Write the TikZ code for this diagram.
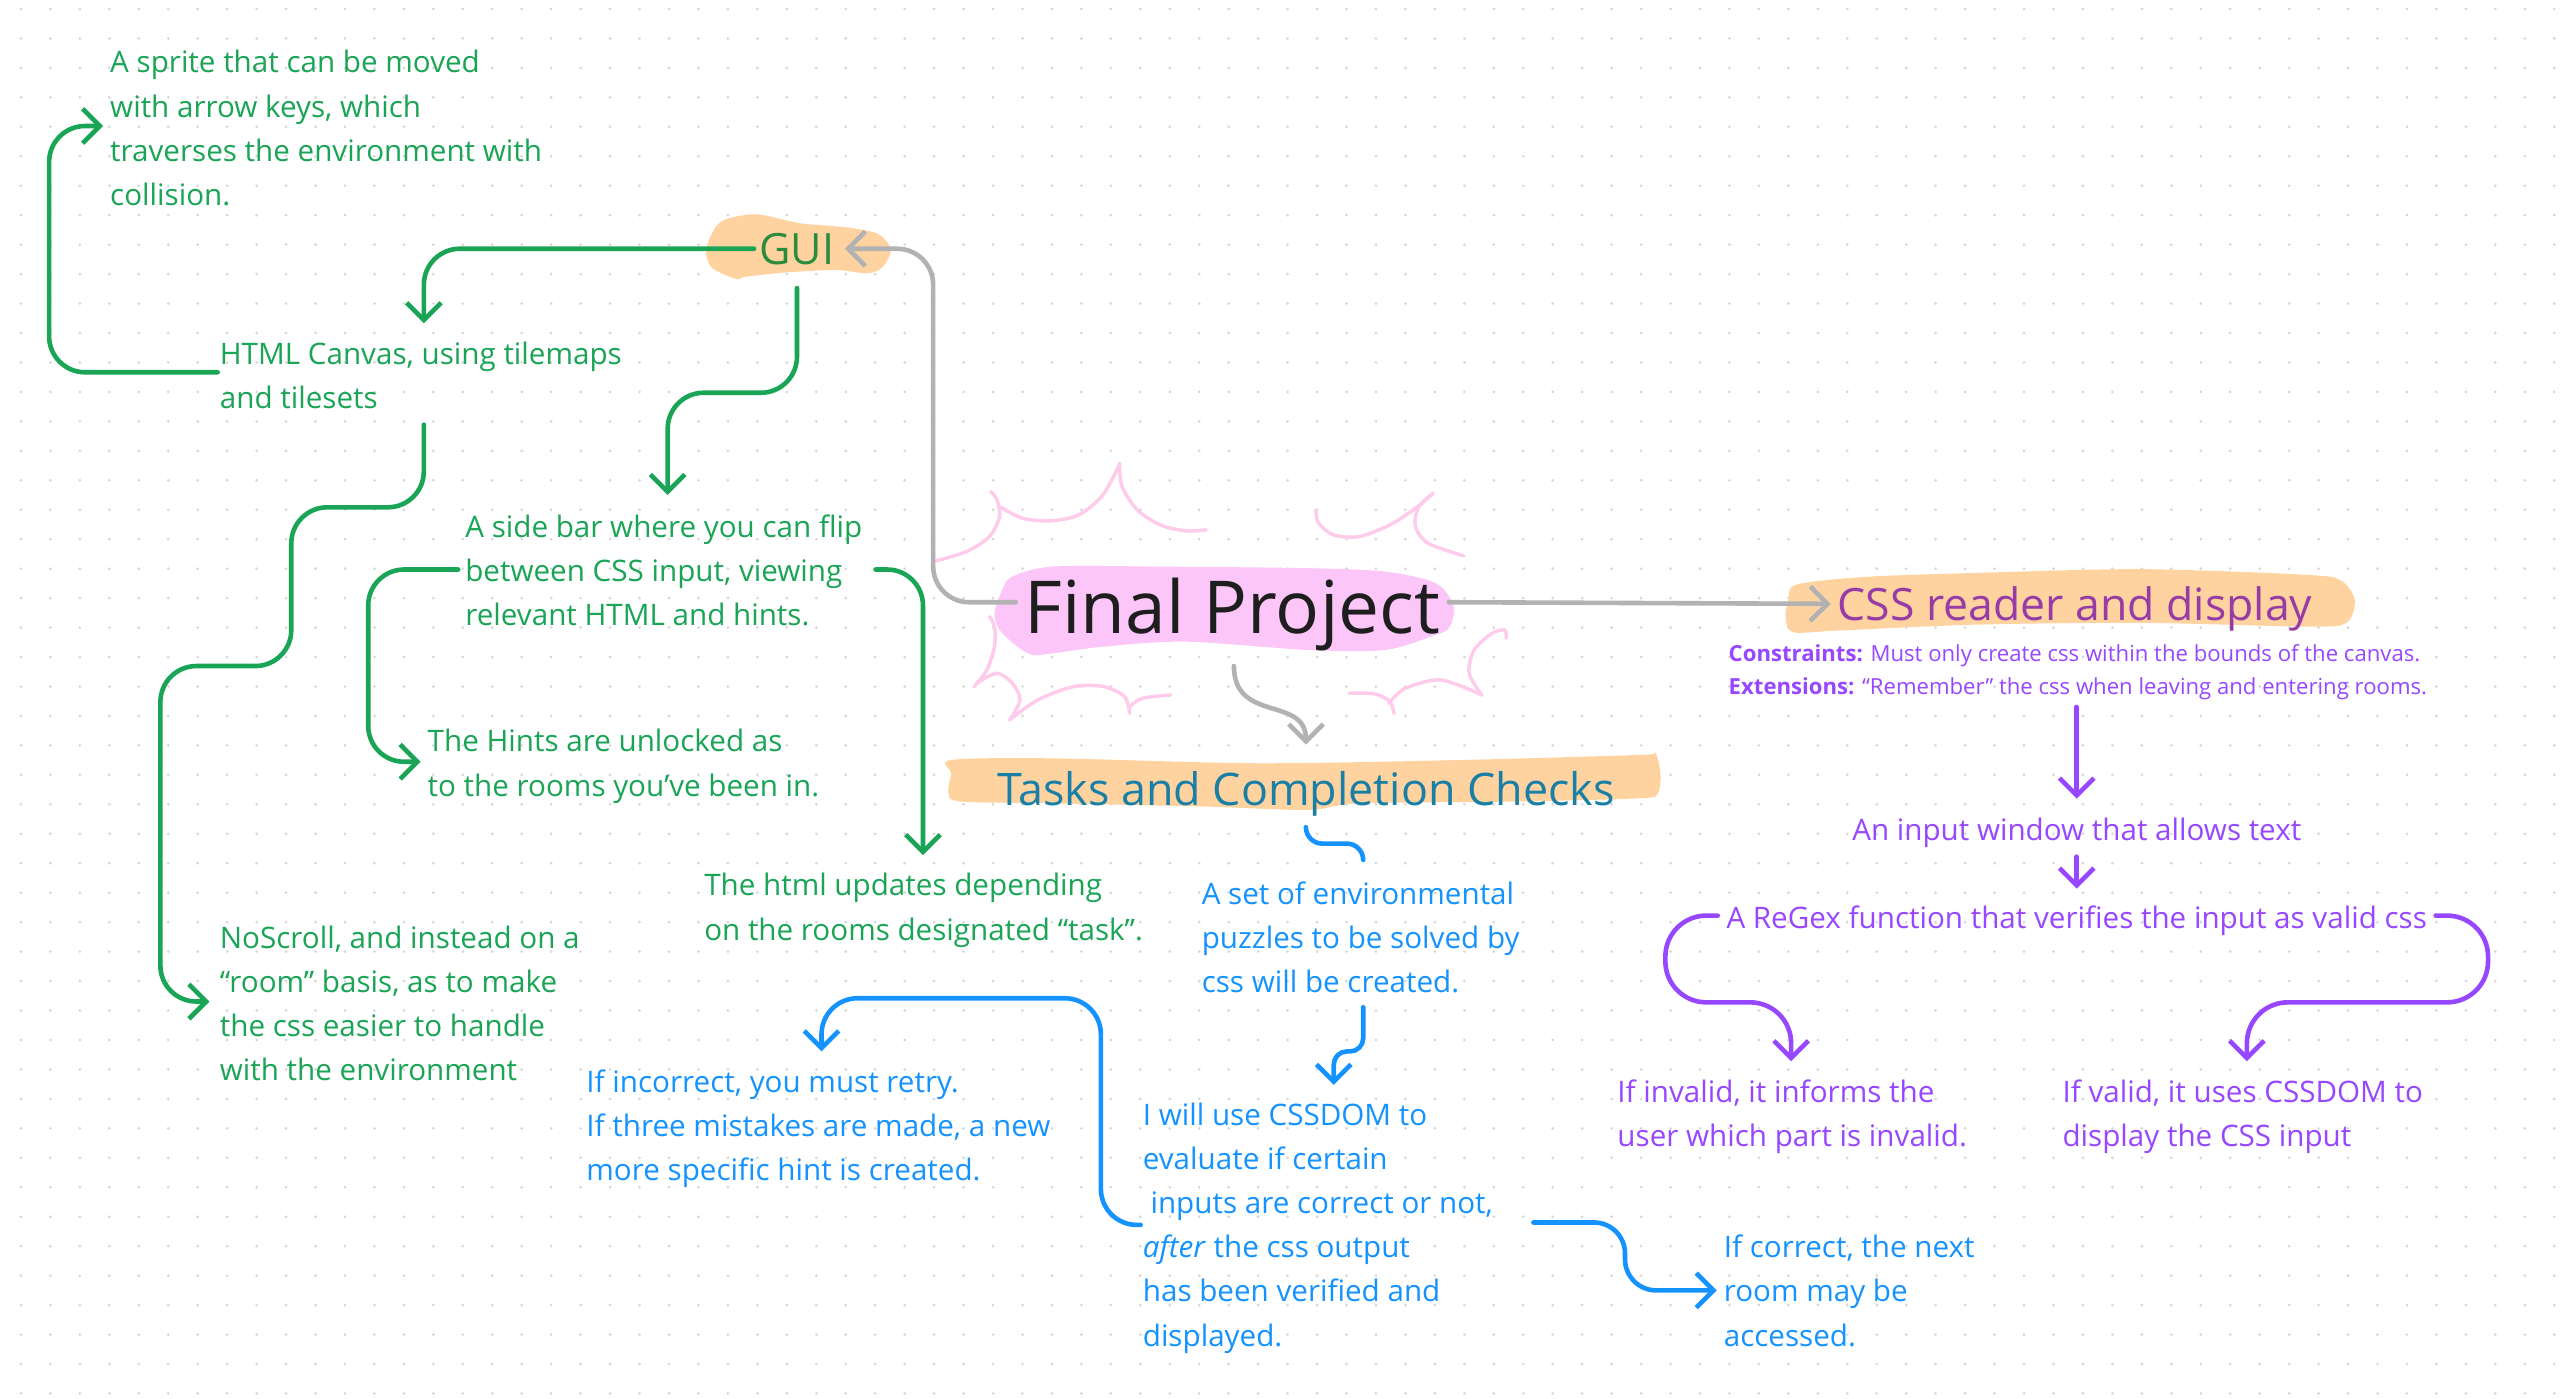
\documentclass[tikz,border=0pt]{standalone}
\usepackage{fontspec}
\setmainfont{Open Sans}
\usetikzlibrary{arrows.meta,calc}
\definecolor{grn}{HTML}{19A555}
\definecolor{guigrn}{HTML}{2A8C3C}
\definecolor{blu}{HTML}{1493FF}
\definecolor{tealb}{HTML}{1A7FA6}
\definecolor{pur}{HTML}{9747FF}
\definecolor{cssp}{HTML}{973BA6}
\definecolor{lgray}{HTML}{B2B2B2}
\definecolor{peach}{HTML}{FFD3A0}
\definecolor{pinkblob}{HTML}{FDC6F8}
\definecolor{sparkpink}{HTML}{FFCBEB}
\definecolor{ink}{HTML}{1E1E1E}
\definecolor{dotgray}{HTML}{D6D6D6}
\begin{document}
\begin{tikzpicture}[x=0.02cm,y=-0.02cm,
	txt/.style={anchor=base west, align=left, inner sep=0pt, font=\fontsize{10.3}{15.36}\selectfont},
	title/.style={anchor=base, inner sep=0pt},
	link/.style={line width=1.6pt, line cap=round, line join=round, rounded corners=0.44cm, -{Straight Barb[length=6pt,width=12pt]}},
	blob/.style={fill=peach, draw=none},
	spark/.style={draw=sparkpink, line width=1.2pt, line cap=round}]
	\fill[white] (0,0) rectangle (1568,854.3);
	\useasboundingbox (0,0) rectangle (1568,854.3);
	\foreach \i in {0,...,86}{
		\foreach \j in {0,...,47}{
			\fill[dotgray] ({12.8+18*\i},{5.5+18*\j}) circle (0.018cm);
		}
	}
	
	\fill[blob] plot[smooth cycle] coordinates {(444.4,133.7) (462.9,131) (488.8,136.4) (518.4,139.1) (537,143.2) (544.3,152.8) (538.8,163.7) (529.5,167) (511,165) (481.4,166.4) (455.5,169.1) (449.9,170.5) (435.1,163.7) (431.4,152.8) (437,139.1)};
	\fill[blob] plot[smooth cycle] coordinates {(581.2,464.4) (643.5,463.4) (768.3,466.4) (893,464.4) (1002.1,461.3) (1011.4,460.3) (1014.6,472.5) (1013,484.7) (1002.1,487.8) (924.2,489.8) (830.6,490.9) (799.4,494.9) (737.1,492.9) (643.5,490.9) (587.4,489.8) (579.6,484.7) (581.2,472.5)};
	\fill[blob] plot[smooth cycle] coordinates {(1097.9,357.2) (1140.1,352.5) (1207.6,350.1) (1308.9,347.8) (1410.2,351.3) (1430.4,354.8) (1438.9,366.5) (1433.8,380.6) (1410.2,382.9) (1308.9,380.6) (1207.6,381.7) (1123.2,385.3) (1096.2,386.4) (1091.1,378.2) (1092.8,366.5)};
	\fill[pinkblob] plot[smooth cycle] coordinates {(618.6,352.3) (643.5,346.2) (705.9,346.2) (799.4,347.2) (846.2,349.3) (877.4,356.4) (888.3,370.7) (885.2,383.9) (874.3,389) (846.2,397.2) (799.4,397.2) (724.6,392.1) (674.7,395.1) (643.5,399.2) (631.1,400.2) (621.7,395.1) (610.8,384.9) (607.7,374.7) (612.4,360.5)};
	
	% sparks round the title
	\draw[spark] plot[smooth] coordinates {(570.3,343.2) (590.5,337.1) (604.6,327.9) (610.8,315.7) (609.2,305.5) (605.5,300.4)};
	\draw[spark] plot[smooth] coordinates {(611.7,310) (624.8,316.7) (642,318.3) (659.1,314.7) (673.2,303.4) (682.5,287.2) (684.1,283.1)};
	\draw[spark] plot[smooth] coordinates {(684.1,283.1) (685.6,297.3) (695,311.6) (709,320.8) (724.6,324.4) (737.1,323.8)};
	\draw[spark] plot[smooth] coordinates {(804.1,311.6) (805.7,319.7) (815,326.9) (830.6,327.9) (849.3,320.8) (864.9,310.6) (875.8,301.4)};
	\draw[spark] plot[smooth] coordinates {(874.3,302.4) (866.5,310.6) (864.9,321.8) (872.7,332) (894.5,339.7)};
	\draw[spark] plot[smooth] coordinates {(604.6,376.8) (607.7,382.9) (607.7,395.1) (603,409.4) (595.2,419.6)};
	\draw[spark] plot[smooth] coordinates {(596.8,417.5) (609.2,411.4) (618.6,417.5) (623.3,427.7) (617,439.9)};
	\draw[spark] plot[smooth] coordinates {(617,439.9) (634.2,427.7) (656,419.6) (674.7,419.6) (687.2,425.7) (690.3,435.9)};
	\draw[spark] plot[smooth] coordinates {(690.3,431.8) (698.1,426.7) (715.3,424.7)};
	\draw[spark] plot[smooth] coordinates {(824.4,423.6) (840,424) (849.3,428.7) (851.8,435.9)};
	\draw[spark] plot[smooth] coordinates {(848.7,429.7) (858.7,420.6) (880.5,415.5) (905.5,424.7)};
	\draw[spark] plot[smooth] coordinates {(905.5,424.7) (897.7,411.4) (900.8,397.2) (911.7,387) (919.5,385) (920.4,390)};
	
	\node[title, anchor=center, text=guigrn, font=\fontsize{15}{18}\selectfont] (gui) at (487,152) {GUI};
	\node[title, text=ink, font=\fontsize{25.4}{30}\selectfont] (final) at (753,387) {Final Project};
	\node[title, text=tealb, font=\fontsize{15.6}{18}\selectfont] (tasks) at (798,492) {Tasks and Completion Checks};
	\node[title, text=cssp, font=\fontsize{15.5}{18}\selectfont] (css) at (1268,379) {CSS reader and display};
	
	\node[txt, text=grn] (sprite) at (67,125.5) {A sprite that can be moved\\with arrow keys, which\\traverses the environment with\\collision.};
	\node[txt, text=grn] (canvas) at (134,249.5) {HTML Canvas, using tilemaps\\and tilesets};
	\node[txt, text=grn] (sidebar) at (284,382.5) {A side bar where you can flip\\between CSS input, viewing\\relevant HTML and hints.};
	\node[txt, text=grn] (hints) at (261,486.5) {The Hints are unlocked as\\to the rooms you’ve been in.};
	\node[txt, text=grn] (htmlupd) at (430,574.5) {The html updates depending\\on the rooms designated “task”.};
	\node[txt, text=grn] (noscroll) at (134,660.5) {NoScroll, and instead on a\\“room” basis, as to make\\the css easier to handle\\with the environment};
	
	\node[txt, text=blu] (puzzles) at (734,606.5) {A set of environmental\\puzzles to be solved by\\css will be created.};
	\node[txt, text=blu] (cssdom) at (698,822.5) {I will use CSSDOM to\\evaluate if certain\\\ inputs are correct or not,\\\textit{after} the css output\\has been verified and\\displayed.};
	\node[txt, text=blu] (retry) at (358,721.5) {If incorrect, you must retry.\\If three mistakes are made, a new\\more specific hint is created.};
	\node[txt, text=blu] (correct) at (1053,822.5) {If correct, the next\\room may be\\accessed.};
	
	\node[txt, text=pur, font=\fontsize{7.7}{11.4}\selectfont] (cons) at (1056,424.5) {\textbf{Constraints:} Must only create css within the bounds of the canvas.\\\textbf{Extensions:} “Remember” the css when leaving and entering rooms.};
	\node[txt, text=pur, anchor=base] (inwin) at (1269,513.5) {An input window that allows text};
	\node[txt, text=pur, anchor=base] (regex) at (1269,567.5) {A ReGex function that verifies the input as valid css};
	\node[txt, text=pur] (invalid) at (988,700.5) {If invalid, it informs the\\user which part is invalid.};
	\node[txt, text=pur] (valid) at (1260,700.5) {If valid, it uses CSSDOM to\\display the CSS input};
	
	% grey links from the title
	\draw[link, lgray] ($(final.base west)+(-5,-19)$) -| ($(gui.east)+(60,0)$) -- ($(gui.east)+(6,0)$);
	\draw[link, lgray] ($(final.base east)+(5,-19)$) -- ($(css.base west)+(-4,-10)$);
	\draw[link, lgray] ($(final.base)+(1,20)$) .. controls +(0,35) and +(0,-30) .. ($(tasks.base)+(0,-37)$);
	
	% green links
	\draw[link, grn] ($(gui.west)+(-3,0)$) -| ($(canvas.base west)+(125,-52)$);
	\draw[link, grn] ($(gui.south)+(0,14)$) |- ($(sidebar.base west)+(124,-142.5)$) -- ($(sidebar.base west)+(124,-80)$);
	\draw[link, grn] ($(canvas.base west)+(-1,-22)$) -| ($(sprite.base west)+(-37,-48.5)$) -- ($(sprite.base west)+(-4,-48.5)$);
	\draw[link, grn] ($(canvas.base west)+(125,10)$) |- ($(canvas.base west)+(44,60.5)$) |- ($(noscroll.base west)+(-36,-253.5)$) |- ($(noscroll.base west)+(-6,-48.5)$);
	\draw[link, grn] ($(sidebar.base west)+(-4,-34.5)$) -| ($(hints.base west)+(-36,-21)$) -- ($(hints.base west)+(-4,-21)$);
	\draw[link, grn] ($(sidebar.base west)+(251,-34.5)$) -| ($(htmlupd.base west)+(134,-52)$);
	
	% blue links
	\draw[link, blu, -, rounded corners=0.2cm] ($(tasks.base)+(0,13.5)$) |- ($(puzzles.base west)+(99,-91)$) -- ($(puzzles.base west)+(99,-81)$);
	\draw[link, blu, rounded corners=0.16cm] ($(puzzles.base west)+(99,9)$) |- ($(cssdom.base west)+(117,-180)$) -- ($(cssdom.base west)+(117,-159.5)$);
	\draw[link, blu] ($(cssdom.base west)+(-1,-74)$) -| ($(retry.base west)+(314.7,-111.5)$) -| ($(retry.base west)+(144,-79)$);
	\draw[link, blu, rounded corners=0.38cm] ($(cssdom.base west)+(239,-75.5)$) -| ($(correct.base west)+(-60,-34)$) -- ($(correct.base west)+(-4,-34)$);
	
	% purple links
	\draw[link, pur] ($(cons.base west)+(213,7.5)$) -- ($(inwin.base)+(0,-25.5)$);
	\draw[link, pur] ($(inwin.base)+(0,10)$) -- ($(regex.base)+(0,-24.5)$);
	\draw[link, pur, rounded corners=0.5cm] ($(regex.base west)+(-5,-8)$) -- ++(-32,0) |- ($(invalid.base west)+(106.5,-88)$) -- ($(invalid.base west)+(106.5,-52)$);
	\draw[link, pur, rounded corners=0.5cm] ($(regex.base east)+(5,-8)$) -- ++(32,0) |- ($(valid.base west)+(113,-88)$) -- ($(valid.base west)+(113,-52)$);
\end{tikzpicture}
\end{document}
